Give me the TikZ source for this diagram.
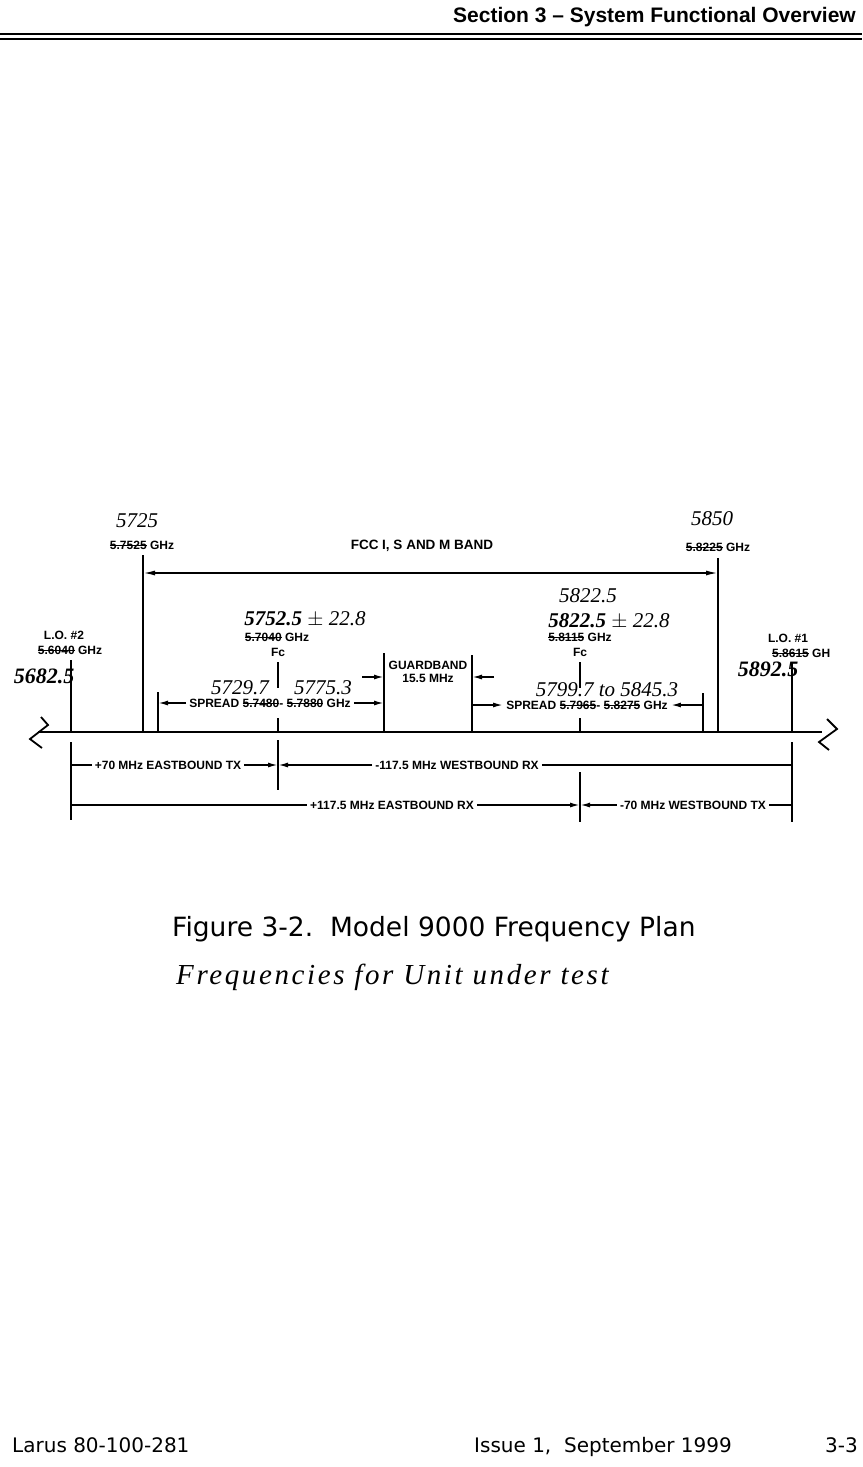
\documentclass[tikz,border=0pt]{standalone}
\usepackage{fontspec}
\setmainfont{Liberation Sans}
\newfontfamily\handfont{Liberation Serif}
\newfontfamily\pagefont{DejaVu Sans}
\usepackage{tikz}
\usetikzlibrary{arrows.meta}
\newsavebox{\oldbox}
\newcommand{\old}[1]{\sbox{\oldbox}{#1}\rlap{\rule[0.3em]{\wd\oldbox}{1pt}}\usebox{\oldbox}}
\newcommand{\hw}{\handfont\itshape\mdseries}

\begin{document}
\begin{tikzpicture}[x=1pt,y=-1pt,
  every node/.style={font=\fontsize{12}{13.5}\selectfont\bfseries,inner sep=0pt},
  hand/.style={font=\fontsize{21}{22}\selectfont\hw},
  handbold/.style={font=\fontsize{22}{23}\selectfont\handfont\itshape\bfseries},
  vline/.style={line width=2.2pt},
  dim/.style={line width=1.6pt,-{Latex[length=10pt,width=5pt]}},
  plain/.style={line width=1.6pt}]
  \fill[white] (0,0) rectangle (862,1467);
  \useasboundingbox (0,0) rectangle (862,1467);

  % page header
  \node[font=\fontsize{21}{22}\selectfont\bfseries,anchor=base east] (head) at (856,22) {Section 3 -- System Functional Overview};
  \coordinate (ruleAl) at (0,34); \coordinate (ruleAr) at (862,34);
  \coordinate (ruleBl) at (0,39); \coordinate (ruleBr) at (862,39);
  \draw[line width=2.4pt] (ruleAl)--(ruleAr);
  \draw[line width=1.2pt] (ruleBl)--(ruleBr);

  % frequency axis with break marks
  \coordinate (axL) at (38,732); \coordinate (axR) at (822,732);
  \draw[vline] (axL)--(axR);
  \draw[line width=1.8pt] (41,717)--(48,725)--(30,739)--(42,748);
  \draw[line width=1.8pt] (827,719)--(837,729)--(819,742)--(829,750);

  % markers standing on the axis
  \foreach \nm/\x/\top in {lotwo/71/660, bandlo/143/555, sprlo/158/692, guardlo/384/653,
                           guardhi/472/655, sprhi/703/693, bandhi/718/558, loone/792/663}{
    \coordinate (\nm-t) at (\x,\top);
    \coordinate (\nm-b) at (\x,732);
    \draw[vline] (\nm-t)--(\nm-b);
  }
  \foreach \nm/\x in {fcA/278, fcB/580}{
    \coordinate (\nm-t) at (\x,662); \coordinate (\nm-m) at (\x,688);
    \coordinate (\nm-n) at (\x,718); \coordinate (\nm-b) at (\x,732);
    \draw[vline] (\nm-t)--(\nm-m);
    \draw[vline] (\nm-n)--(\nm-b);
  }
  % markers below the axis
  \coordinate (lotwo-u) at (71,742);  \coordinate (lotwo-d) at (71,820);
  \coordinate (loone-u) at (792,742); \coordinate (loone-d) at (792,822);
  \coordinate (fcA-u) at (278,740);   \coordinate (fcA-d) at (278,790);
  \coordinate (fcB-u) at (580,772);   \coordinate (fcB-d) at (580,822);
  \draw[vline] (lotwo-u)--(lotwo-d);
  \draw[vline] (loone-u)--(loone-d);
  \draw[vline] (fcA-u)--(fcA-d);
  \draw[vline] (fcB-u)--(fcB-d);

  % ISM band
  \node[font=\fontsize{13.5}{15}\selectfont\bfseries] (fcc) at (422,546) {FCC I, S AND M BAND};
  \coordinate (fccL) at (143,573); \coordinate (fccR) at (718,573);
  \draw[plain,{Latex[length=12pt,width=5pt]}-{Latex[length=12pt,width=5pt]}] (fccL)--(fccR);
  \node (bandA) at (142,545) {\old{5.7525} GHz};
  \node[hand] (hbandA) at (137,521) {5725};
  \node (bandB) at (718,547) {\old{5.8225} GHz};
  \node[hand] (hbandB) at (712,519) {5850};

  % local oscillators
  \node (lotwo) at (64,635) {L.O. \#2};
  \node (lotwoF) at (70,650) {\old{5.6040} GHz};
  \node[handbold] (hlotwo) at (44,676) {5682.5};
  \node (loone) at (788,638) {L.O. \#1};
  \node[anchor=west] (looneF) at (772,653) {\old{5.8615} GH};
  \node[handbold] (hloone) at (768,669) {5892.5};

  % centre frequencies
  \node[hand] (hfcA) at (305,619) {\textbf{5752.5} $\pm$ 22.8};
  \node (fcAf) at (277,637) {\old{5.7040} GHz};
  \node (fcAl) at (278,652) {Fc};
  \node[hand] (hfcB) at (588,596) {5822.5};
  \node[hand] (hfcBb) at (609,621) {\textbf{5822.5} $\pm$ 22.8};
  \node (fcBf) at (580,637) {\old{5.8115} GHz};
  \node (fcBl) at (580,652) {Fc};

  % guardband
  \node[align=center] (guard) at (428,672) {GUARDBAND\\15.5 MHz};
  \coordinate (gLin) at (362,677); \coordinate (gLat) at (384,677);
  \coordinate (gRin) at (494,677); \coordinate (gRat) at (472,677);
  \draw[dim] (gLin)--(gLat);
  \draw[dim] (gRin)--(gRat);

  % spreads
  \node[inner sep=3pt] (sprA) at (270,703) {SPREAD \old{5.7480}- \old{5.7880} GHz};
  \coordinate (sprAl) at (158,703); \coordinate (sprAr) at (384,703);
  \draw[dim] (sprA.west)--(sprAl);
  \draw[dim] (sprA.east)--(sprAr);
  \node[hand] (hsprA) at (240,688) {5729.7};
  \node[hand] (hsprAb) at (323,688) {5775.3};
  \node[inner sep=3pt] (sprB) at (587,705) {SPREAD \old{5.7965}- \old{5.8275} GHz};
  \coordinate (sprBl) at (472,705); \coordinate (sprBr) at (703,705);
  \draw[dim] (sprBl)--(sprB.west);
  \draw[dim] (sprBr)--(sprB.east);
  \node[hand] (hsprB) at (607,690) {5799.7 to 5845.3};

  % offsets from the oscillators
  \node[inner sep=3pt] (etx) at (168,765) {+70 MHz EASTBOUND TX};
  \coordinate (etxL) at (71,765); \coordinate (etxR) at (278,765);
  \draw[plain] (etxL)--(etx.west);
  \draw[dim] (etx.east)--(etxR);
  \node[inner sep=3pt] (wrx) at (457,765) {-117.5 MHz WESTBOUND RX};
  \coordinate (wrxR) at (792,765);
  \draw[dim] (wrx.west)--(etxR);
  \draw[plain] (wrx.east)--(wrxR);
  \node[inner sep=3pt] (erx) at (392,805) {+117.5 MHz EASTBOUND RX};
  \coordinate (erxL) at (71,805); \coordinate (erxR) at (580,805);
  \draw[plain] (erxL)--(erx.west);
  \draw[dim] (erx.east)--(erxR);
  \node[inner sep=3pt] (wtx) at (693,805) {-70 MHz WESTBOUND TX};
  \coordinate (wtxR) at (792,805);
  \draw[dim] (wtx.west)--(erxR);
  \draw[plain] (wtx.east)--(wtxR);

  % caption and note
  \node[font=\fontsize{26.5}{28}\selectfont\pagefont,anchor=base west] (cap) at (172,936) {Figure 3-2.\ \ Model 9000 Frequency Plan};
  \node[font=\fontsize{29}{31}\selectfont\hw\addfontfeatures{LetterSpace=9},anchor=base west] (note) at (176,984) {Frequencies for Unit under test};

  % page footer
  \node[font=\fontsize{20}{21}\selectfont\pagefont,anchor=base west] (footA) at (12,1452) {Larus 80-100-281};
  \node[font=\fontsize{20}{21}\selectfont\pagefont,anchor=base west] (footB) at (474,1452) {Issue 1,\ \ September 1999};
  \node[font=\fontsize{20}{21}\selectfont\pagefont,anchor=base east] (footC) at (858,1452) {3-3};
\end{tikzpicture}
\end{document}
